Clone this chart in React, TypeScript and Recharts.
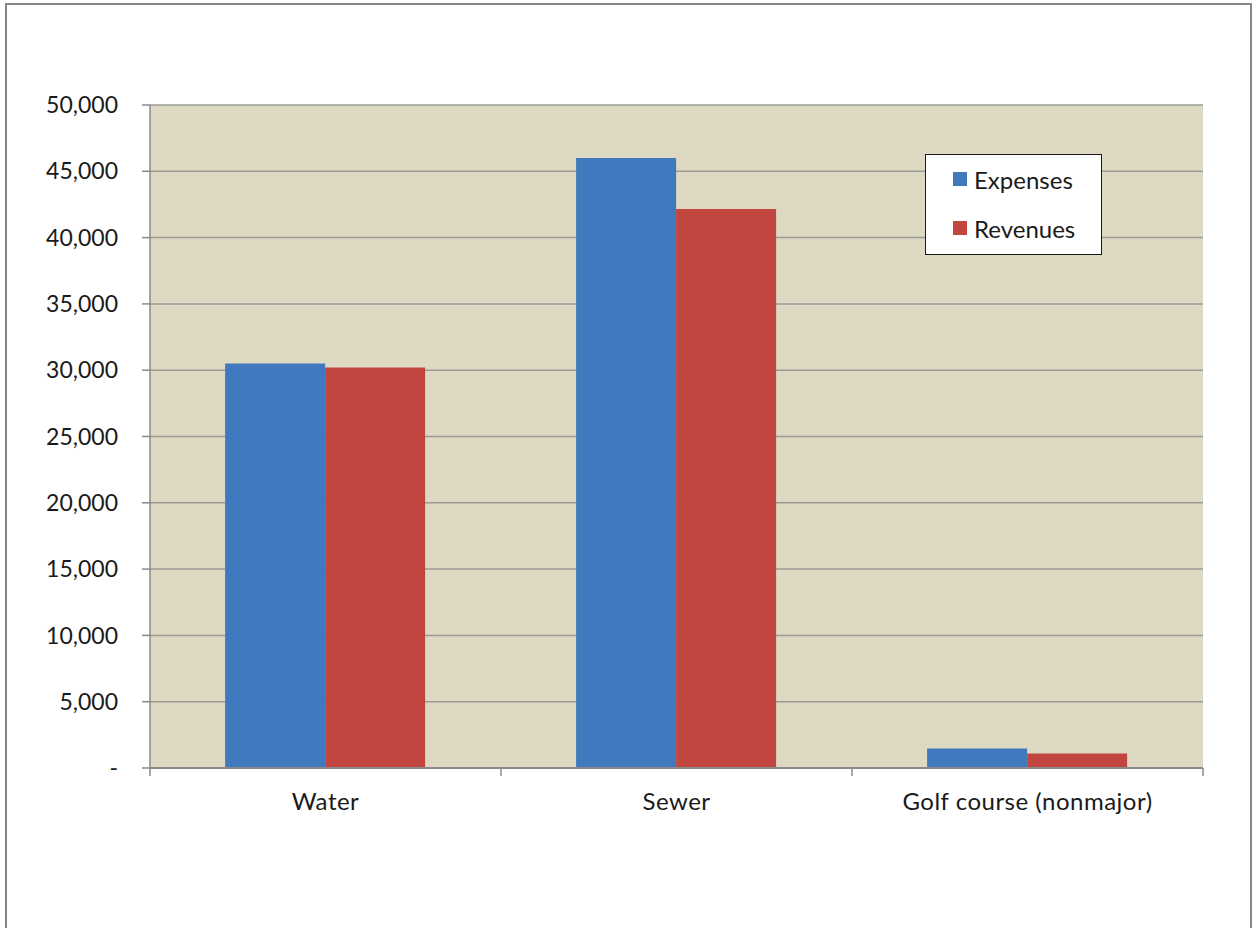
import React from "react";
import {
  BarChart,
  Bar,
  XAxis,
  YAxis,
  CartesianGrid,
  Legend,
} from "recharts";

// Enterprise funds, thousands of dollars
const FUNDS = ["Water", "Sewer", "Golf course (nonmajor)"];
const EXPENSES = [30500, 46000, 1480];
const REVENUES = [30200, 42150, 1100];
const Y_TICKS = [0, 5000, 10000, 15000, 20000, 25000, 30000, 35000, 40000, 45000, 50000];

const BLUE = "#4079BD";
const RED = "#C0463F";
const AXIS = "#8a8a8a";
const GRID = "#9b9b96";
const PLOT_BG = "#DDD9C3";
const INK = "#1a1a1a";
const FONT = "Lato, 'Open Sans', sans-serif";

const data = FUNDS.map((name, i) => ({
  name,
  expenses: EXPENSES[i],
  revenues: REVENUES[i],
}));

const fmtThousands = (v: number) => (v === 0 ? "-" : v.toLocaleString("en-US"));

// Category label in the middle, tick marks on the band edges
function FundTick(props: any) {
  const { x, y, payload, index, visibleTicksCount } = props;
  const half = payload.offset ?? 0;
  const isLast = index === visibleTicksCount - 1;
  return (
    <g>
      <line x1={x - half} x2={x - half} y1={y - 8} y2={y} stroke={AXIS} strokeWidth={1.5} />
      {isLast && (
        <line x1={x + half} x2={x + half} y1={y - 8} y2={y} stroke={AXIS} strokeWidth={1.5} />
      )}
      <text
        x={x}
        y={y}
        dy={34}
        textAnchor="middle"
        fill={INK}
        fontSize={24}
        letterSpacing={0.5}
        fontFamily={FONT}
      >
        {payload.value}
      </text>
    </g>
  );
}

function LegendBox(props: any) {
  const { payload = [] } = props;
  return (
    <div
      style={{
        width: 177,
        height: 101,
        boxSizing: "border-box",
        background: "#fff",
        border: "1.5px solid #1a1a1a",
        position: "relative",
        fontFamily: FONT,
        fontSize: 24,
        color: INK,
      }}
    >
      {payload.map((entry: any, i: number) => (
        <div
          key={entry.value}
          style={{
            position: "absolute",
            left: 27,
            top: 11 + i * 49,
            height: 26,
            display: "flex",
            alignItems: "center",
            whiteSpace: "nowrap",
          }}
        >
          <span style={{ width: 14, height: 14, background: entry.color, marginRight: 7 }} />
          <span>{entry.value}</span>
        </div>
      ))}
    </div>
  );
}

export default function App() {
  return (
    <div
      style={{
        position: "absolute",
        left: 0,
        top: 0,
        width: 1255,
        height: 928,
        overflow: "hidden",
        background: "#fff",
      }}
    >
      <div
        style={{
          position: "absolute",
          left: 5,
          top: 3,
          width: 1247,
          height: 1000,
          border: "2px solid #868686",
          boxSizing: "border-box",
        }}
      />
      <div style={{ position: "absolute", left: 0, top: 0 }}>
        <BarChart
          width={1255}
          height={928}
          data={data}
          margin={{ top: 105, right: 52, bottom: 60, left: 0 }}
          barCategoryGap="21.4%"
          barGap={0}
        >
          <CartesianGrid
            vertical={false}
            fill={PLOT_BG}
            stroke={GRID}
            strokeWidth={1.5}
          />
          <XAxis
            dataKey="name"
            height={100}
            tickLine={false}
            tickSize={8}
            tickMargin={0}
            axisLine={{ stroke: AXIS, strokeWidth: 2 }}
            tick={<FundTick />}
            interval={0}
          />
          <YAxis
            width={150}
            domain={[0, 50000]}
            ticks={Y_TICKS}
            interval={0}
            tickFormatter={fmtThousands}
            tickSize={8}
            tickMargin={24}
            tickLine={{ stroke: AXIS, strokeWidth: 1.5 }}
            axisLine={{ stroke: AXIS, strokeWidth: 1.5 }}
            tick={{ fill: INK, fontSize: 23, fontFamily: FONT }}
          />
          <Legend
            layout="vertical"
            align="center"
            verticalAlign="middle"
            wrapperStyle={{ left: 925, top: 154, width: 177 }}
            content={<LegendBox />}
          />
          <Bar dataKey="expenses" name="Expenses" fill={BLUE} isAnimationActive={false} />
          <Bar dataKey="revenues" name="Revenues" fill={RED} isAnimationActive={false} />
        </BarChart>
      </div>
    </div>
  );
}
